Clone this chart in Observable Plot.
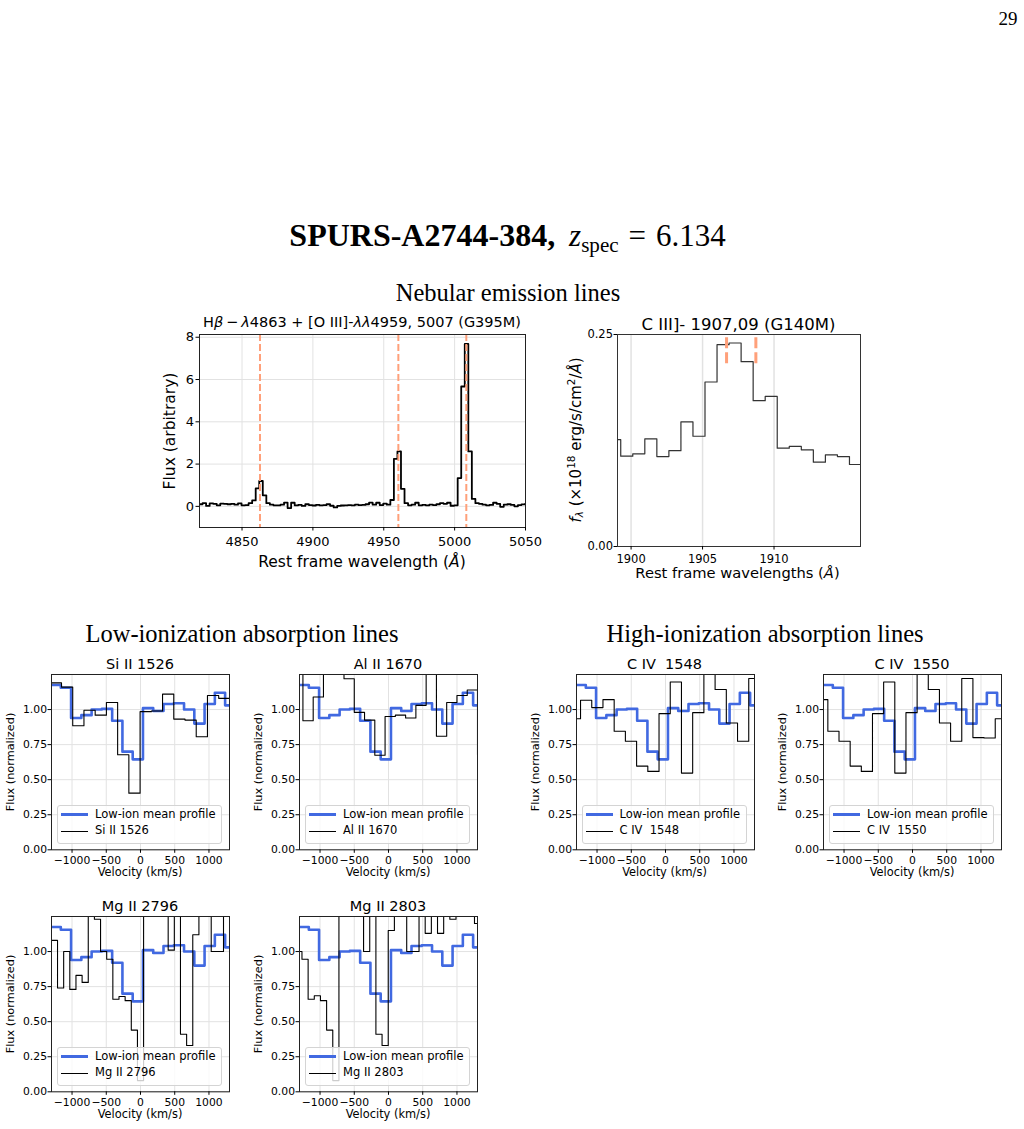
<!DOCTYPE html>
<html>
<head>
<meta charset="utf-8">
<script src="https://cdn.jsdelivr.net/npm/d3@7"></script>
<script src="https://cdn.jsdelivr.net/npm/@observablehq/plot@0.6"></script>
<style>
  body { margin: 0; background: #fff; }
  #page { position: relative; width: 1024px; height: 1129px; overflow: hidden; background: #fff;
          font-family: "DejaVu Sans", sans-serif; color: #000; }
  .t { position: absolute; white-space: nowrap; line-height: 1; }
  .serif { font-family: "Liberation Serif", "DejaVu Serif", serif; }
  .legend { position: absolute; width: 165px; height: 39px; box-sizing: border-box;
            border: 1px solid #d4d4d4; border-radius: 3px; background: rgba(255,255,255,0.8); }
  .legend .sw { position: absolute; left: 3px; width: 27px; }
  .legend .lt { position: absolute; left: 37px; transform: translateY(-50%); font-size: 11.5px; line-height: 1; white-space: nowrap; }
  sub, sup { line-height: 0; }
</style>
</head>
<body>
<div id="page"></div>
<script>
// ---------- data ----------
// G395M spectrum around Hbeta + [O III]: bin centres start at nebStart, spaced nebStep (rest-frame Å)
const nebStart = 4818.4, nebStep = 2.5;
const nebFlux = [
  0.10, 0.10, 0.15, 0.02, 0.14, 0.12, 0.05, 0.13, 0.12, 0.10,
  0.12, 0.08, 0.14, 0.05, 0.06, 0.15, 0.28, 0.85, 1.20, 0.52,
  0.15, 0.08, 0.05, 0.05, 0.08, 0.18, -0.08, 0.17, 0.05, 0.07,
  0.02, 0.10, 0.06, 0.04, 0.07, 0.05, 0.06, 0.10, 0.03, -0.05,
  0.02, 0.04, 0.05, 0.06, 0.05, 0.08, 0.06, 0.07, 0.10, 0.18,
  0.08, 0.17, 0.06, 0.13, 0.08, 0.30, 2.25, 2.60, 0.83, 0.15,
  0.05, 0.08, 0.17, 0.05, 0.07, 0.05, 0.08, 0.06, 0.10, 0.15,
  0.12, 0.17, 0.03, 0.05, 1.34, 5.67, 7.68, 2.60, 0.35, 0.15,
  0.12, 0.08, 0.05, 0.07, 0.17, 0.12, -0.02, 0.08, 0.10, 0.07,
  0.00, 0.06, 0.09, 0.12
];
const nebLines = [4862.68, 4960.30, 5008.24];
const nebXTicks = [4850, 4900, 4950, 5000, 5050];
const nebYTicks = [0, 2, 4, 6, 8];

// G140M spectrum around C III] (10^-18 erg/s/cm^2/Å)
const ciiiStart = 1898.855, ciiiStep = 0.8422;
const ciiiFlux = [
  0.126, 0.1065, 0.1093, 0.127, 0.106, 0.113, 0.147, 0.130, 0.194, 0.238,
  0.240, 0.218, 0.172, 0.177, 0.116, 0.118, 0.114, 0.0994, 0.108, 0.106, 0.0967
];
const ciiiLines = [1906.68, 1908.73];
const ciiiXTicks = [1900, 1905, 1910];
const ciiiYTicks = [0, 0.25];

// absorption panels: normalised flux on velocity bins (km/s); values above 1.25 run off the top
const velTicks = [-1000, -500, 0, 500, 1000];
const normTicks = [0, 0.25, 0.5, 0.75, 1.0];

const meanStart = -1239, meanStep = 150;
const meanFlux = [1.175, 1.155, 0.94, 0.96, 1.00, 1.005, 0.92, 0.70, 0.645,
                  1.01, 0.99, 1.04, 1.045, 1.00, 0.90, 1.04, 1.12, 1.03];

const si1526Start = -1236, si1526Step = 164;
const si1526Flux = [1.19, 1.16, 0.885, 0.995, 0.96, 1.05, 0.678, 0.404,
                    0.985, 0.99, 1.11, 0.932, 0.925, 0.806, 1.10, 1.08];

const al1670Start = -1325, al1670Step = 150;
const al1670Flux = [1.40, 0.92, 1.09, 1.45, 1.40, 1.22, 0.98, 0.925, 0.674, 0.95,
                    0.96, 0.94, 1.03, 1.45, 0.81, 1.05, 1.10, 1.14, 0.68];

const c1548Start = -1323, c1548Step = 163.8;
const c1548Flux = [0.935, 1.066, 1.014, 1.071, 0.845, 0.774, 0.597, 0.559, 0.971,
                   1.197, 0.547, 0.978, 1.40, 1.143, 0.904, 0.774, 1.221];

const c1550Start = -1318, c1550Step = 163;
const c1550Flux = [1.071, 0.845, 0.774, 0.597, 0.559, 0.971, 1.197, 0.547, 0.978,
                   1.40, 1.143, 0.904, 0.774, 1.221, 0.80, 0.797, 0.935];

const mg2796Start = -1257, mg2796Step = 89.8;
const mg2796Flux = [1.08, 0.74, 1.00, 0.73, 0.83, 0.78, 1.40, 1.23, 1.00, 0.945,
                    0.66, 0.68, 0.65, 0.44, 0.08, 1.50, 1.40, 1.60, 1.40, 1.01,
                    1.40, 0.41, 0.33, 1.12, 1.40, 1.50, 1.00, 1.00, 1.40];

const mg2803Start = -1309, mg2803Step = 90;
const mg2803Flux = [1.00, 0.945, 0.66, 0.685, 0.65, 0.44, 0.08, 1.40, 1.50, 1.40,
                    1.40, 1.00, 1.40, 0.41, 0.33, 1.15, 1.40, 1.50, 1.00, 1.00,
                    1.40, 1.13, 1.40, 1.13, 1.40, 1.23, 1.40, 1.40, 1.40, 1.20];

// ---------- helpers ----------
const page = document.getElementById("page");
const BLUE = "#4169E1";
const SALMON = "#FFA07A";
const GRID = "#e2e2e2";

// bin centres -> step outline through bin edges
function steps(start, step, values) {
  const pts = values.map((v, i) => ({x: start + i * step - step / 2, y: v}));
  pts.push({x: start + (values.length - 1) * step + step / 2, y: values[values.length - 1]});
  return pts;
}

function text(html, x, y, style = {}, rotate = false) {
  const d = document.createElement("div");
  d.className = "t";
  d.innerHTML = html;
  Object.assign(d.style, {left: x + "px", top: y + "px",
    transform: "translate(-50%,-50%)" + (rotate ? " rotate(-90deg)" : "")}, style);
  page.appendChild(d);
  return d;
}

function addPlot(f, m, fontSize, x, y, marks) {
  const svg = Plot.plot({
    width: f.width + m.l + m.r,
    height: f.height + m.t + m.b,
    marginLeft: m.l, marginRight: m.r, marginTop: m.t, marginBottom: m.b,
    style: {fontFamily: '"DejaVu Sans", sans-serif', fontSize: fontSize + "px", color: "#000",
            background: "none", overflow: "visible"},
    x, y, marks
  });
  Object.assign(svg.style, {position: "absolute", left: (f.left - m.l) + "px",
    top: (f.top - m.t) + "px", maxWidth: "none"});
  page.appendChild(svg);
}

// ---------- headings ----------
text("29", 1008, 18, {fontSize: "19px"}).classList.add("serif");
text('<b style="font-size:32px">SPURS-A2744-384,</b><span style="margin-left:0.45em"><i>z</i></span><sub style="font-size:0.68em;vertical-align:-0.3em">spec</sub><span style="margin:0 0.32em">=</span>6.134',
     507.5, 235, {fontSize: "31px"}).classList.add("serif");
text("Nebular emission lines", 508, 293, {fontSize: "24.5px"}).classList.add("serif");
text("Low-ionization absorption lines", 242, 634, {fontSize: "24.5px"}).classList.add("serif");
text("High-ionization absorption lines", 765, 634, {fontSize: "24.5px"}).classList.add("serif");

// ---------- Hbeta + [O III] ----------
{
  const f = {left: 199, top: 334, width: 326, height: 193};
  addPlot(f, {l: 40, r: 20, t: 10, b: 30}, 13,
    {domain: [4820, 5050]}, {domain: [-1, 8.13]},
    [
      Plot.gridX(nebXTicks, {stroke: GRID, strokeOpacity: 1}),
      Plot.gridY(nebYTicks, {stroke: GRID, strokeOpacity: 1}),
      Plot.line(steps(nebStart, nebStep, nebFlux), {x: "x", y: "y", curve: "step-after",
        stroke: "#000", strokeWidth: 1.8, clip: true}),
      Plot.ruleX(nebLines, {stroke: SALMON, strokeWidth: 2, strokeDasharray: "7,3"}),
      Plot.frame({stroke: "#222"}),
      Plot.axisX({ticks: nebXTicks, tickFormat: d3.format("d"), tickSize: 3.5, tickPadding: 6, label: null}),
      Plot.axisY({ticks: nebYTicks, tickFormat: d3.format("d"), tickSize: 3.5, tickPadding: 2, label: null})
    ]);
  text('H<i>β</i>&thinsp;−&thinsp;<i>λ</i>4863 + [O III]-<i>λλ</i>4959, 5007 (G395M)', 362, 322, {fontSize: "14.5px"});
  text("Flux (arbitrary)", 171, 431, {fontSize: "15.5px"}, true);
  text('Rest frame wavelength (<i>Å</i>)', 362, 563, {fontSize: "15.5px"});
}

// ---------- C III] ----------
{
  const f = {left: 617, top: 334, width: 243, height: 212};
  const yMax = 0.25;
  addPlot(f, {l: 40, r: 20, t: 10, b: 30}, 11.5,
    {domain: [1899.05, 1916.05]}, {domain: [0, yMax]},
    [
      Plot.gridX(ciiiXTicks, {stroke: GRID, strokeOpacity: 1, strokeWidth: 1.5}),
      Plot.line(steps(ciiiStart, ciiiStep, ciiiFlux), {x: "x", y: "y", curve: "step-after",
        stroke: "#333", strokeWidth: 1.2, clip: true}),
      Plot.ruleX(ciiiLines, {y1: yMax * 0.862, y2: yMax, stroke: SALMON, strokeWidth: 3, strokeDasharray: "11,4"}),
      Plot.frame({stroke: "#333"}),
      Plot.axisX({ticks: ciiiXTicks, tickFormat: d3.format("d"), tickSize: 3.5, tickPadding: 4.5, label: null}),
      Plot.axisY({ticks: ciiiYTicks, tickFormat: d3.format(".2f"), tickSize: 3.5, tickPadding: 1, label: null})
    ]);
  text("C III]- 1907,09 (G140M)", 738.5, 325, {fontSize: "16.5px"});
  text('<i>f</i><sub style="font-size:0.7em;vertical-align:-0.25em"><i>λ</i></sub> (×10<sup style="font-size:0.7em;vertical-align:0.5em">18</sup> erg/s/cm<sup style="font-size:0.7em;vertical-align:0.5em">2</sup>/<i>Å</i>)',
       576, 440, {fontSize: "15px"}, true);
  text('Rest frame wavelengths (<i>Å</i>)', 737.5, 573, {fontSize: "14.7px"});
}

// ---------- absorption panels ----------
const panels = [
  {title: "Si II 1526", start: si1526Start, step: si1526Step, flux: si1526Flux, left: 51, top: 674},
  {title: "Al II 1670", start: al1670Start, step: al1670Step, flux: al1670Flux, left: 299, top: 674},
  {title: "C IV&nbsp; 1548", start: c1548Start, step: c1548Step, flux: c1548Flux, left: 575.5, top: 674},
  {title: "C IV&nbsp; 1550", start: c1550Start, step: c1550Step, flux: c1550Flux, left: 823, top: 674},
  {title: "Mg II 2796", start: mg2796Start, step: mg2796Step, flux: mg2796Flux, left: 51, top: 916},
  {title: "Mg II 2803", start: mg2803Start, step: mg2803Step, flux: mg2803Flux, left: 299, top: 916}
];

for (const p of panels) {
  const f = {left: p.left, top: p.top, width: 178, height: 175.3};
  addPlot(f, {l: 40, r: 15, t: 10, b: 30}, 10.8,
    {domain: [-1300, 1300]}, {domain: [0, 1.25]},
    [
      Plot.gridX(velTicks, {stroke: GRID, strokeOpacity: 1}),
      Plot.gridY(normTicks, {stroke: GRID, strokeOpacity: 1}),
      Plot.line(steps(meanStart, meanStep, meanFlux), {x: "x", y: "y", curve: "step-after",
        stroke: BLUE, strokeWidth: 2.6, clip: true}),
      Plot.line(steps(p.start, p.step, p.flux), {x: "x", y: "y", curve: "step-after",
        stroke: "#000", strokeWidth: 1.1, clip: true}),
      Plot.frame({stroke: "#222"}),
      Plot.axisX({ticks: velTicks, tickFormat: d3.format("d"), tickSize: 3.5, tickPadding: 3, label: null}),
      Plot.axisY({ticks: normTicks, tickFormat: d3.format(".2f"), tickSize: 3.5, tickPadding: 1, label: null})
    ]);
  const cx = f.left + f.width / 2;
  text(p.title, cx, f.top - 10, {fontSize: "14.5px"});
  text("Flux (normalized)", f.left - 40, f.top + f.height / 2, {fontSize: "11.3px"}, true);
  text("Velocity (km/s)", cx, f.top + f.height + 24, {fontSize: "11.4px"});

  const lg = document.createElement("div");
  lg.className = "legend";
  Object.assign(lg.style, {left: (f.left + 6) + "px", top: (f.top + f.height - 44.5) + "px"});
  lg.innerHTML =
    `<div class="sw" style="top:7.7px;height:2.6px;background:${BLUE}"></div>` +
    `<div class="lt" style="top:9px">Low-ion mean profile</div>` +
    `<div class="sw" style="top:25px;height:1.1px;background:#000"></div>` +
    `<div class="lt" style="top:25.6px">${p.title}</div>`;
  page.appendChild(lg);
}
</script>
</body>
</html>
